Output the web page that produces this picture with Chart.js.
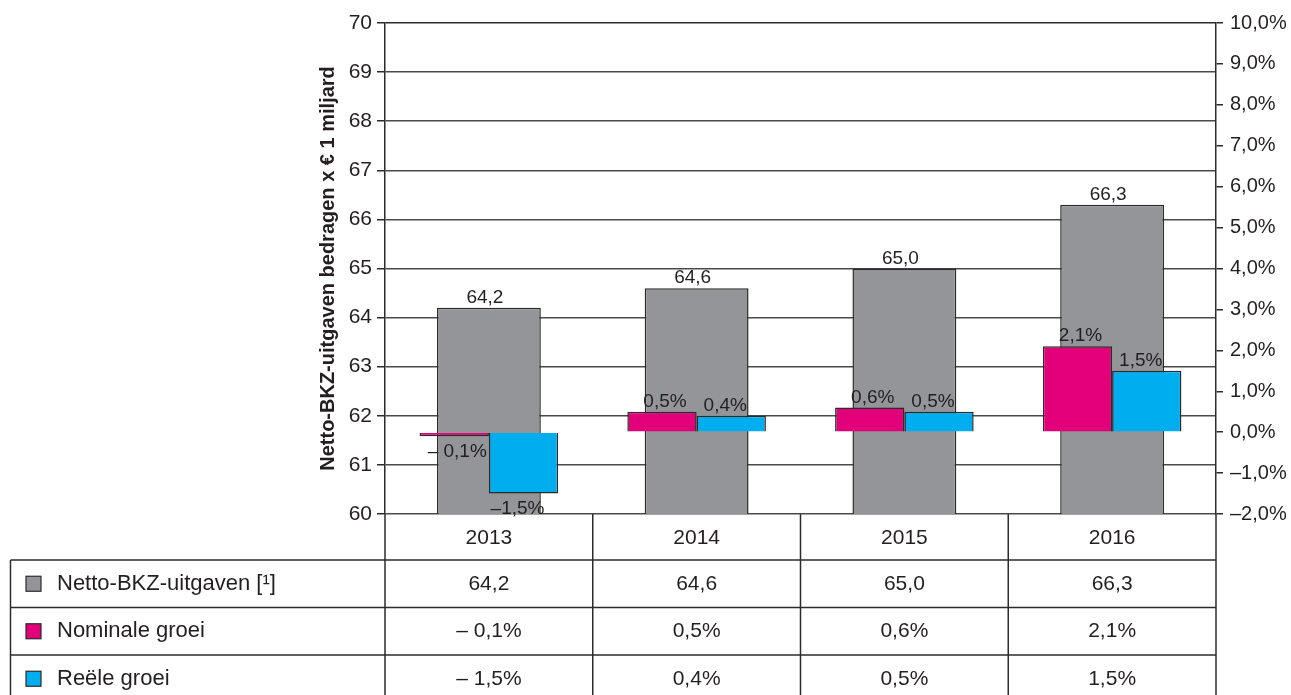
<!DOCTYPE html>
<html>
<head>
<meta charset="utf-8">
<script src="https://cdn.jsdelivr.net/npm/chart.js@4"></script>
<style>
  html, body { margin: 0; padding: 0; background: #fff; }
</style>
</head>
<body>
<canvas id="chart" width="1291" height="695"></canvas>
<script>
// data
const years = ["2013", "2014", "2015", "2016"];
const uitgaven = [64.2, 64.6, 65.0, 66.3];   // x € 1 miljard
const nominaal = [-0.1, 0.5, 0.6, 2.1];      // %
const reeel = [-1.5, 0.4, 0.5, 1.5];         // %
const seriesNames = ["Netto-BKZ-uitgaven [\u00b9]", "Nominale groei", "Re\u00eble groei"];
const leftMin = 60, leftMax = 70;
const rightMin = -2, rightMax = 10;

const textColor = "#231f20";
const lineColor = "#2b2b2b";
const colors = ["#939598", "#e2007a", "#00aeef"];
const font = '"Liberation Sans", Arial, sans-serif';

function comma(v, d) {
    return Math.abs(v).toFixed(d).replace(".", ",");
}
function pct(v, gap) {
    return (v < 0 ? "\u2013" + gap : "") + comma(v, 1) + "%";
}

/* LABELS ON BARS */
const barLabels = {
    id: "barLabels",
    afterDatasetsDraw(chart) {
        const ctx = chart.ctx;
        ctx.save();
        ctx.font = "19px " + font;
        ctx.fillStyle = textColor;
        ctx.textAlign = "center";
        chart.data.datasets.forEach((ds, di) => {
            const meta = chart.getDatasetMeta(di);
            meta.data.forEach((bar, i) => {
                const v = ds.data[i];
                const txt = ds.labelText(v);
                if (v >= 0 || di === 0) {
                    ctx.textBaseline = "alphabetic";
                    ctx.fillText(txt, bar.x + ds.labelShift, bar.y - 5);
                } else {
                    ctx.textBaseline = "top";
                    ctx.fillText(txt, bar.x + ds.labelShift, bar.y + 6);
                }
            });
        });
        ctx.restore();
    }
};

/* DATA TABLE UNDER THE CHART */
const dataTable = {
    id: "dataTable",
    afterDraw(chart) {
        const ctx = chart.ctx;
        const area = chart.chartArea;
        const xs = chart.scales.x;
        const half = (xs.getPixelForValue(1) - xs.getPixelForValue(0)) / 2;
        const top = area.bottom;
        const headH = 46, rowH = 47.5;
        const tableLeft = 10.5;
        const bottom = chart.height + 10;
        const rows = [
            uitgaven.map(v => comma(v, 1)),
            nominaal.map(v => pct(v, " ")),
            reeel.map(v => pct(v, " "))
        ];

        ctx.save();
        ctx.strokeStyle = lineColor;
        ctx.lineWidth = 1.5;
        const line = (x1, y1, x2, y2) => {
            ctx.beginPath();
            ctx.moveTo(x1, y1);
            ctx.lineTo(x2, y2);
            ctx.stroke();
        };

        // column borders
        years.forEach((y, i) => {
            const c = xs.getPixelForValue(i);
            line(c - half, top, c - half, bottom);
            if (i === years.length - 1) line(c + half, top, c + half, bottom);
        });
        // row borders
        for (let r = 0; r < rows.length; r++) {
            const y = top + headH + r * rowH;
            line(tableLeft, y, area.right, y);
        }
        line(tableLeft, top + headH, tableLeft, bottom);

        ctx.fillStyle = textColor;
        ctx.textBaseline = "middle";
        ctx.font = "21px " + font;
        ctx.textAlign = "center";
        years.forEach((y, i) => {
            ctx.fillText(y, xs.getPixelForValue(i), top + headH / 2 + 1);
        });

        rows.forEach((vals, r) => {
            const cy = top + headH + r * rowH + rowH / 2;
            // legend square
            ctx.fillStyle = colors[r];
            ctx.fillRect(26, cy - 7.5, 15, 15);
            ctx.lineWidth = 1.2;
            ctx.strokeRect(26, cy - 7.5, 15, 15);
            ctx.fillStyle = textColor;
            ctx.textAlign = "left";
            ctx.font = "22px " + font;
            ctx.fillText(seriesNames[r], 57, cy);
            ctx.textAlign = "center";
            ctx.font = "21px " + font;
            vals.forEach((t, i) => ctx.fillText(t, xs.getPixelForValue(i), cy));
        });
        ctx.restore();
    }
};

new Chart(document.getElementById("chart"), {
    type: "bar",
    data: {
        labels: years,
        datasets: [
            {
                label: seriesNames[0],
                data: uitgaven,
                yAxisID: "y",
                backgroundColor: colors[0],
                borderColor: lineColor,
                borderWidth: 1.5,
                grouped: false,
                categoryPercentage: 1,
                barPercentage: 0.5,
                order: 1,
                labelText: v => comma(v, 1),
                labelShift: -4
            },
            {
                label: seriesNames[1],
                data: nominaal,
                yAxisID: "y1",
                backgroundColor: colors[1],
                borderColor: lineColor,
                borderWidth: 1.5,
                categoryPercentage: 0.667,
                barPercentage: 1,
                order: 0,
                labelText: v => pct(v, " "),
                labelShift: 3
            },
            {
                label: seriesNames[2],
                data: reeel,
                yAxisID: "y1",
                backgroundColor: colors[2],
                borderColor: lineColor,
                borderWidth: 1.5,
                categoryPercentage: 0.667,
                barPercentage: 1,
                order: 0,
                labelText: v => pct(v, ""),
                labelShift: -6
            }
        ]
    },
    options: {
        responsive: false,
        animation: false,
        devicePixelRatio: 1,
        layout: { padding: { left: 316, top: 23, right: 0, bottom: 0 } },
        plugins: {
            legend: { display: false },
            tooltip: { enabled: false }
        },
        scales: {
            x: {
                grid: { display: false },
                border: { display: false },
                ticks: { display: false },
                afterFit: s => { s.height = 181; }
            },
            y: {
                position: "left",
                min: leftMin,
                max: leftMax,
                ticks: {
                    stepSize: 1,
                    padding: 5,
                    color: textColor,
                    font: { family: font, size: 21 }
                },
                grid: {
                    color: c => (c.tick && c.tick.value === leftMax ? lineColor : "#4a4a4a"),
                    lineWidth: 1.5,
                    tickLength: 8,
                    tickColor: lineColor
                },
                border: { color: lineColor, width: 1.5 },
                title: {
                    display: true,
                    text: "Netto-BKZ-uitgaven bedragen x \u20ac 1 miljard",
                    color: textColor,
                    font: { family: font, size: 20, weight: "bold" },
                    padding: 0
                },
                afterFit: s => { s.width = 69; }
            },
            y1: {
                position: "right",
                min: rightMin,
                max: rightMax,
                ticks: {
                    stepSize: 1,
                    padding: 7,
                    color: textColor,
                    font: { family: font, size: 20 },
                    callback: v => pct(v, "")
                },
                grid: {
                    drawOnChartArea: false,
                    lineWidth: 1.5,
                    tickLength: 7,
                    tickColor: lineColor
                },
                border: { color: lineColor, width: 1.5 },
                afterFit: s => { s.width = 75; }
            }
        }
    },
    plugins: [barLabels, dataTable]
});
</script>
</body>
</html>
